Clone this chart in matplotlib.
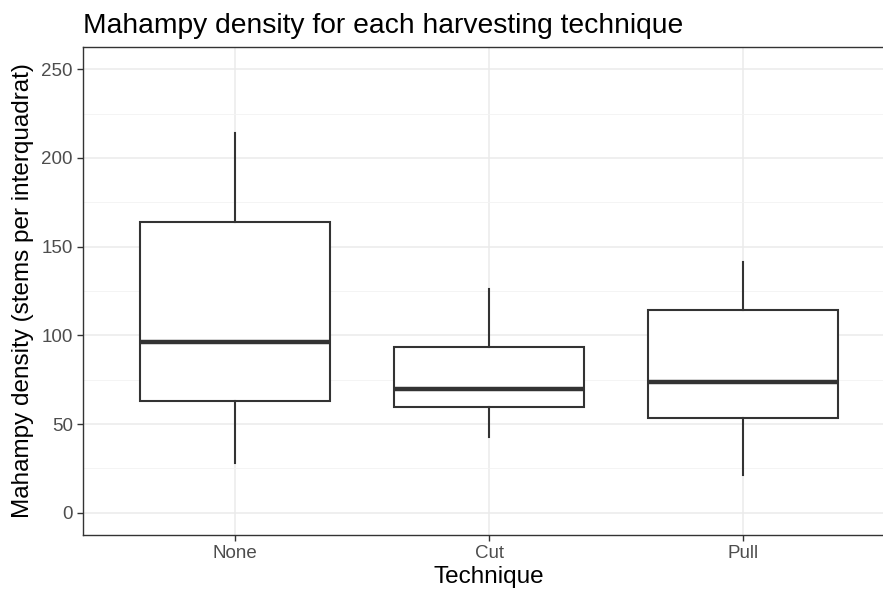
import matplotlib
matplotlib.use("Agg")
import matplotlib.pyplot as plt

plt.rcParams['font.family'] = ['Liberation Sans', 'DejaVu Sans']

techniques = ["None", "Cut", "Pull"]
whisker_low = [27.8, 42.5, 21.3]
q1 = [63.0, 59.6, 53.4]
medians = [96.3, 69.6, 73.9]
q3 = [163.8, 93.7, 114.4]
whisker_high = [214.0, 126.2, 141.3]

stats = []
for i, name in enumerate(techniques):
    stats.append(dict(label=name, whislo=whisker_low[i], q1=q1[i], med=medians[i],
                      q3=q3[i], whishi=whisker_high[i], fliers=[]))

fig = plt.figure(figsize=(8.83, 5.91), dpi=100)
ax = fig.add_axes([82.6 / 883, 56 / 591, 812.8 / 883, 488 / 591])

dark = "#333333"
ax.bxp(stats, positions=[1, 2, 3], widths=0.75, showcaps=False, patch_artist=True,
       boxprops=dict(facecolor="white", edgecolor=dark, linewidth=1.5),
       medianprops=dict(color=dark, linewidth=3.2, solid_capstyle="butt"),
       whiskerprops=dict(color=dark, linewidth=1.5), zorder=3)

ax.set_xlim(0.4, 3.6)
ax.set_ylim(-12.5, 262.5)
ax.set_yticks([0, 50, 100, 150, 200, 250])
ax.set_yticks([25, 75, 125, 175, 225], minor=True)
ax.set_xticks([1, 2, 3])
ax.set_xticklabels(techniques)

ax.grid(which="major", color="#EBEBEB", linewidth=1.1, zorder=0)
ax.grid(which="minor", axis="y", color="#F3F3F3", linewidth=0.6, zorder=0)
ax.set_axisbelow(True)
for s in ax.spines.values():
    s.set_color(dark)
    s.set_linewidth(1.0)

ax.tick_params(which="major", length=4, width=1.0, color=dark, labelcolor="#4D4D4D",
               labelsize=13.5, pad=3)
ax.tick_params(which="minor", length=0)

ax.set_xlabel("Technique", fontsize=17.5, color="black", labelpad=3)
ax.set_ylabel("Mahampy density (stems per interquadrat)", fontsize=17.5, color="black", labelpad=5)
ax.set_title("Mahampy density for each harvesting technique", fontsize=20.3, loc="left",
             x=0, pad=10)

fig.savefig("out.png", dpi=100)
